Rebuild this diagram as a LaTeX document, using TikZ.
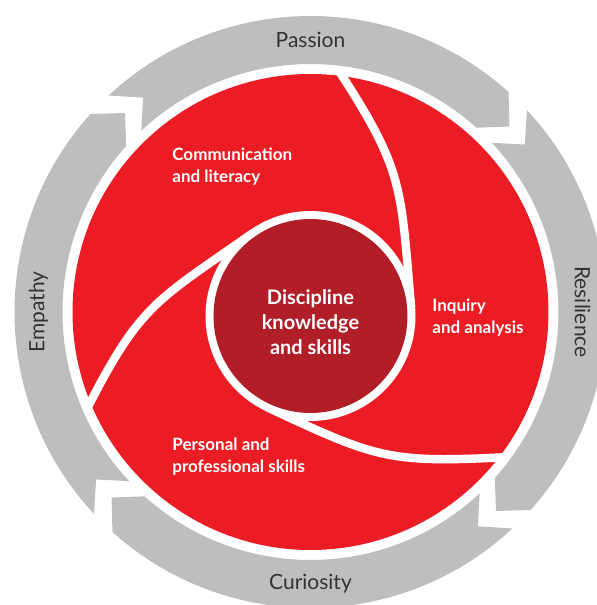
\documentclass[tikz,border=0pt]{standalone}
\usepackage{fontspec}
\setmainfont{Lato}
\usetikzlibrary{calc}
\definecolor{ringgray}{HTML}{BCBEC0}
\definecolor{petalred}{HTML}{EC1C24}
\definecolor{corered}{HTML}{B21E28}
\definecolor{labelgray}{HTML}{333333}
\newcommand*{\rOut}{296}
\newcommand*{\rIn}{248}
\newcommand*{\rMid}{272}
\newcommand*{\rRed}{238}
\newcommand*{\rCore}{97}
\newcommand*{\rRing}{101}

\begin{document}
\begin{tikzpicture}[x=0.5pt,y=0.5pt,
    ringlabel/.style={text=labelgray,font=\fontsize{10.5}{12}\selectfont},
    petallabel/.style={text=white,font=\fontsize{8.5}{11}\bfseries\selectfont,
      align=left,anchor=north west,inner sep=0pt},
    swirl/.style={white,line width=4.2pt}]
    \useasboundingbox (-310.5,-293) rectangle (285.5,312);
    \foreach \t in {133,43,-47,-137} {
      \fill[ringgray] (\t:\rOut) arc[start angle=\t, end angle=\t-85, radius=\rOut]
        -- (\t-90:\rMid) -- (\t-85:\rIn) arc[start angle=\t-85, end angle=\t, radius=\rIn]
        -- (\t-5:\rMid) -- cycle;
    }
    \fill[petalred] (0,0) circle[radius=\rRed];
    \coordinate (core) at (0,-4);
    \foreach \k in {0,120,240} {
      \draw[swirl] (83.5+\k:244) to[out=-57+\k, in=95+\k, looseness=1.25] ($(core)+(5+\k:\rRing)$);
    }
    \fill[white] (core) circle[radius=105];
    \fill[corered] (core) circle[radius=\rCore];
    \node[ringlabel] (passion) at (90:\rMid) {Passion};
    \node[ringlabel,rotate=-90] (resilience) at (0:\rMid) {Resilience};
    \node[ringlabel] (curiosity) at (-90:\rMid) {Curiosity};
    \node[ringlabel,rotate=90] (empathy) at (180:\rMid) {Empathy};
    \node[petallabel] (communication) at (-138.5,165) {Communication\\and literacy};
    \node[petallabel] (inquiry) at (121.5,14) {Inquiry\\and analysis};
    \node[petallabel] (personal) at (-138.5,-125) {Personal and\\professional skills};
    \node[text=white,font=\fontsize{10}{12.5}\bfseries\selectfont,align=center] (discipline) at (0,-10) {Discipline\\knowledge\\and skills};
\end{tikzpicture}
\end{document}
